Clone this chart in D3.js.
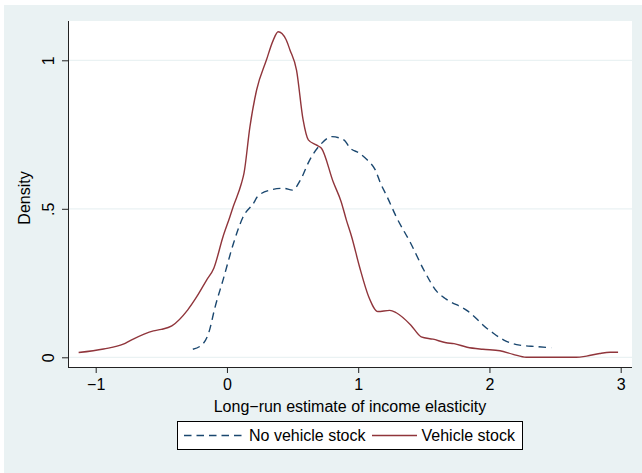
<!DOCTYPE html>
<html>
<head>
<meta charset="utf-8">
<script src="https://cdn.jsdelivr.net/npm/d3@7"></script>
<style>
  html, body { margin: 0; padding: 0; background: #fff; }
  svg { display: block; font-family: "Liberation Sans", Arial, sans-serif; }
</style>
</head>
<body>
<div id="chart"></div>
<script>
// kernel density estimates
const noStockX = [-0.26, -0.18, -0.14, -0.09, -0.03, 0.05, 0.12, 0.21, 0.23, 0.33, 0.43, 0.50, 0.56, 0.63, 0.71, 0.80,
                  0.89, 0.94, 1.01, 1.07, 1.13, 1.17, 1.22, 1.29, 1.40, 1.50, 1.60, 1.67, 1.83, 1.90, 1.95, 2.03,
                  2.11, 2.23, 2.36, 2.47];
const noStockY = [0.027, 0.047, 0.081, 0.17, 0.26, 0.384, 0.47, 0.524, 0.54, 0.563, 0.569, 0.563, 0.597, 0.664, 0.715, 0.743,
                  0.732, 0.704, 0.687, 0.664, 0.631, 0.586, 0.541, 0.473, 0.384, 0.294, 0.221, 0.196, 0.157, 0.131, 0.109, 0.081,
                  0.058, 0.041, 0.036, 0.032];

const stockX = [-1.13, -0.94, -0.79, -0.73, -0.56, -0.50, -0.42, -0.30, -0.23, -0.155, -0.10, -0.03, 0.02, 0.05, 0.11, 0.13,
                0.175, 0.226, 0.30, 0.353, 0.39, 0.45, 0.48, 0.53, 0.58, 0.62, 0.68, 0.72, 0.81, 0.87, 0.91, 0.95,
                1.01, 1.08, 1.15, 1.24, 1.29, 1.40, 1.48, 1.57, 1.67, 1.73, 1.83, 1.95, 2.08, 2.18, 2.28, 2.66,
                2.74, 2.84, 2.92, 2.98];
const stockY = [0.016, 0.028, 0.044, 0.058, 0.089, 0.094, 0.106, 0.159, 0.204, 0.26, 0.30, 0.406, 0.47, 0.51, 0.585, 0.62,
                0.776, 0.90, 1.0, 1.068, 1.096, 1.07, 1.035, 0.967, 0.80, 0.732, 0.715, 0.704, 0.59, 0.524, 0.462, 0.406,
                0.305, 0.204, 0.154, 0.158, 0.15, 0.109, 0.069, 0.061, 0.049, 0.046, 0.034, 0.027, 0.022, 0.010, 0.0, 0.0,
                0.004, 0.013, 0.017, 0.017];

const xTicks = [-1, 0, 1, 2, 3];
const xTickLabels = ["\u22121", "0", "1", "2", "3"];
const yTicks = [0, 0.5, 1];
const yTickLabels = ["0", ".5", "1"];
const seriesNames = ["No vehicle stock", "Vehicle stock"];

const W = 642, H = 473;
const plot = { left: 68, right: 632, top: 21, bottom: 367 };
const bg = "#eaf2f3";
const navy = "#1a476f", maroon = "#90353b";

const svg = d3.select("#chart").append("svg")
    .attr("width", W)
    .attr("height", H);

// graph region + plot region
svg.append("rect").attr("x", 4).attr("y", 5).attr("width", W - 4).attr("height", H - 5).attr("fill", bg);
svg.append("rect")
    .attr("x", plot.left).attr("y", plot.top)
    .attr("width", plot.right - plot.left).attr("height", plot.bottom - plot.top)
    .attr("fill", "#fff");

const x = d3.scaleLinear().domain([-1, 3]).range([95.7, 620.7]);
const y = d3.scaleLinear().domain([0, 1]).range([357.3, 60.3]);

// gridlines
svg.append("g").selectAll("line")
    .data(yTicks)
    .join("line")
    .attr("x1", plot.left).attr("x2", plot.right)
    .attr("y1", d => y(d)).attr("y2", d => y(d))
    .attr("stroke", bg).attr("stroke-width", 1.2);

// axes
const yAxis = svg.append("g")
    .attr("transform", `translate(${plot.left},0)`)
    .call(d3.axisLeft(y).tickValues(yTicks).tickSize(6).tickPadding(8)
        .tickFormat((d, i) => yTickLabels[i]));
yAxis.select(".domain").attr("d", `M0.5,${plot.top}V${plot.bottom}`);
yAxis.selectAll(".tick text")
    .attr("transform", "rotate(-90)")
    .attr("x", 0).attr("y", -14).attr("dy", 0)
    .attr("text-anchor", "middle");

const xAxis = svg.append("g")
    .attr("transform", `translate(0,${plot.bottom})`)
    .call(d3.axisBottom(x).tickValues(xTicks).tickSize(6).tickPadding(5)
        .tickFormat((d, i) => xTickLabels[i]));
xAxis.select(".domain").attr("d", `M${plot.left},0.5H${plot.right}`);
xAxis.selectAll(".tick text").attr("y", 23).attr("dy", 0);

svg.selectAll(".domain, .tick line").attr("stroke", "#222").attr("stroke-width", 1);
svg.selectAll(".tick text")
    .attr("font-family", "'Liberation Sans', Arial, sans-serif")
    .attr("font-size", 16)
    .attr("fill", "#000");

// axis titles
svg.append("text")
    .attr("x", (plot.left + plot.right) / 2)
    .attr("y", 412)
    .attr("text-anchor", "middle")
    .attr("font-size", 16)
    .text("Long\u2212run estimate of income elasticity");

svg.append("text")
    .attr("transform", "translate(30,198) rotate(-90)")
    .attr("text-anchor", "middle")
    .attr("font-size", 16)
    .text("Density");

// density lines
const line = d3.line()
    .x(d => x(d[0]))
    .y(d => y(d[1]))
    .curve(d3.curveMonotoneX);

svg.append("path")
    .datum(d3.zip(noStockX, noStockY))
    .attr("d", line)
    .attr("fill", "none")
    .attr("stroke", navy)
    .attr("stroke-width", 1.4)
    .attr("stroke-dasharray", "7.5,5");

svg.append("path")
    .datum(d3.zip(stockX, stockY))
    .attr("d", line)
    .attr("fill", "none")
    .attr("stroke", maroon)
    .attr("stroke-width", 1.4);

// legend
const legend = svg.append("g");
legend.append("rect")
    .attr("x", 177.5).attr("y", 421.5)
    .attr("width", 345).attr("height", 28)
    .attr("fill", "#fff").attr("stroke", "#000").attr("stroke-width", 1);

const keys = [
    { x1: 184, x2: 245, tx: 249, color: navy, dash: "7.5,5" },
    { x1: 372, x2: 417, tx: 421.5, color: maroon, dash: null }
];
keys.forEach((k, i) => {
    legend.append("line")
        .attr("x1", k.x1).attr("x2", k.x2)
        .attr("y1", 435.5).attr("y2", 435.5)
        .attr("stroke", k.color).attr("stroke-width", 1.4)
        .attr("stroke-dasharray", k.dash);
    legend.append("text")
        .attr("x", k.tx).attr("y", 441)
        .attr("font-size", 16)
        .text(seriesNames[i]);
});
</script>
</body>
</html>
